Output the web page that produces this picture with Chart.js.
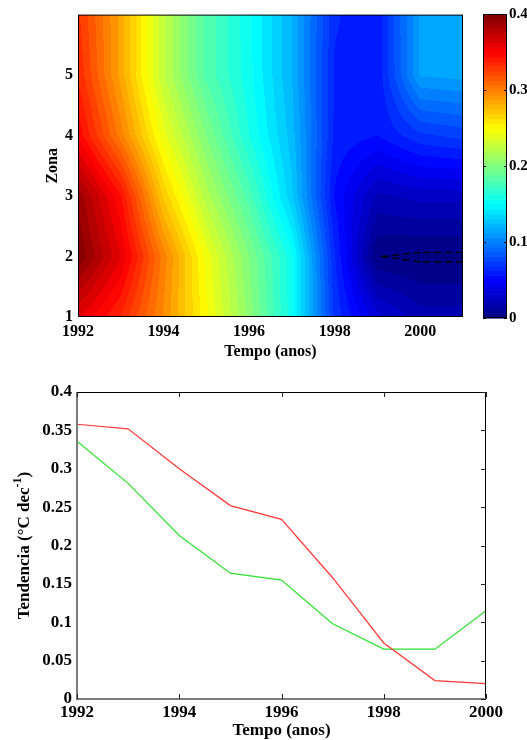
<!DOCTYPE html>
<html>
<head>
<meta charset="utf-8">
<script src="https://cdn.jsdelivr.net/npm/chart.js@4.4.1/dist/chart.umd.min.js"></script>
<style>
  body { margin: 0; background: #fff; width: 527px; height: 740px; position: relative; overflow: hidden; }
  .box { position: absolute; }
</style>
</head>
<body>
<div class="box" style="left:0;top:0;width:470px;height:370px"><canvas id="mapCanvas"></canvas></div>
<div class="box" style="left:470px;top:0;width:57px;height:370px"><canvas id="barCanvas"></canvas></div>
<div class="box" style="left:0;top:370px;width:527px;height:370px"><canvas id="lineCanvas"></canvas></div>
<script>
// top panel: trend per zone (rows) and year (columns)
const mapYears = [1992, 1993, 1994, 1995, 1996, 1997, 1998, 1999, 2000, 2001];
const mapZones = [1, 2, 3, 4, 5, 6];
const trendZone1 = [0.36, 0.335, 0.295, 0.25, 0.205, 0.155, 0.07, 0.035, 0.02, 0.02];
const trendZone2 = [0.40, 0.36, 0.30, 0.245, 0.20, 0.155, 0.065, 0.0002, -0.002, -0.002];
const trendZone3 = [0.39, 0.345, 0.27, 0.22, 0.18, 0.13, 0.055, 0.022, 0.027, 0.027];
const trendZone4 = [0.35, 0.30, 0.243, 0.20, 0.16, 0.124, 0.062, 0.056, 0.07, 0.075];
const trendZone5 = [0.335, 0.285, 0.225, 0.182, 0.155, 0.12, 0.063, 0.058, 0.113, 0.115];
const trendZone6 = [0.33, 0.285, 0.225, 0.182, 0.154, 0.12, 0.065, 0.058, 0.114, 0.116];
const mapXTicks = [1992, 1994, 1996, 1998, 2000];
const mapYTicks = [1, 2, 3, 4, 5];
const colorTicks = [0, 0.1, 0.2, 0.3, 0.4];
const zeroContour = 0;

// bottom panel
const lineYears = [1992, 1993, 1994, 1995, 1996, 1997, 1998, 1999, 2000];
const redSeries = [0.358, 0.352, 0.300, 0.252, 0.234, 0.158, 0.073, 0.024, 0.020];
const greenSeries = [0.336, 0.281, 0.213, 0.164, 0.155, 0.098, 0.065, 0.065, 0.115];
const lineXTicks = [1992, 1994, 1996, 1998, 2000];
const lineYTicks = [0, 0.05, 0.1, 0.15, 0.2, 0.25, 0.3, 0.35, 0.4];

const gridRows = [trendZone1, trendZone2, trendZone3, trendZone4, trendZone5, trendZone6];
const cMin = 0, cMax = 0.4, nBands = 50, nColors = 64;
const serif = "'Liberation Serif', 'DejaVu Serif', serif";
Chart.defaults.font.family = serif;
Chart.defaults.color = '#000';

function clamp01(v) { return Math.max(0, Math.min(1, v)); }
function jet(t) {
  t = clamp01(t);
  return [clamp01(1.5 - Math.abs(4 * t - 3)) * 255,
          clamp01(1.5 - Math.abs(4 * t - 2)) * 255,
          clamp01(1.5 - Math.abs(4 * t - 1)) * 255];
}

function fieldAt(yr, zn) {
  let i = Math.floor(yr - mapYears[0]);
  let j = Math.floor(zn - mapZones[0]);
  i = Math.max(0, Math.min(mapYears.length - 2, i));
  j = Math.max(0, Math.min(mapZones.length - 2, j));
  const tx = yr - mapYears[i], ty = zn - mapZones[j];
  const a = gridRows[j][i], b = gridRows[j][i + 1];
  const c = gridRows[j + 1][i], d = gridRows[j + 1][i + 1];
  return (a * (1 - tx) + b * tx) * (1 - ty) + (c * (1 - tx) + d * tx) * ty;
}

const bold = size => ({ family: serif, size: size, weight: 'bold' });
const noGrid = { display: false, drawTicks: false };

const mapPlugin = {
  id: 'mapPlugin',
  beforeDatasetsDraw(chart) {
    const { ctx, chartArea: a, scales: { x, y } } = chart;
    const dpr = chart.currentDevicePixelRatio || 1;
    const left = Math.round(a.left), top = Math.round(a.top);
    const w = Math.round(a.right) - left, h = Math.round(a.bottom) - top;
    const W = Math.round(w * dpr), H = Math.round(h * dpr);
    const img = ctx.createImageData(W, H);
    const step = (cMax - cMin) / nBands;
    for (let py = 0; py < H; py++) {
      const zn = y.getValueForPixel(top + (py + 0.5) / dpr);
      for (let px = 0; px < W; px++) {
        const yr = x.getValueForPixel(left + (px + 0.5) / dpr);
        const v = fieldAt(yr, zn);
        const k = Math.floor((v - cMin) / step);
        const col = jet((k + 0.5) / nBands);
        const o = (py * W + px) * 4;
        img.data[o] = col[0]; img.data[o + 1] = col[1]; img.data[o + 2] = col[2]; img.data[o + 3] = 255;
      }
    }
    ctx.putImageData(img, left * dpr, top * dpr);
  },
  afterDatasetsDraw(chart) {
    const { ctx, chartArea: a, scales: { x, y } } = chart;
    // dashed zero contour (marching squares on the data grid)
    ctx.save();
    ctx.beginPath();
    ctx.rect(a.left, a.top, a.right - a.left, a.bottom - a.top);
    ctx.clip();
    ctx.strokeStyle = '#000';
    ctx.lineWidth = 1.3;
    ctx.setLineDash([7, 4]);
    for (let j = 0; j < mapZones.length - 1; j++) {
      for (let i = 0; i < mapYears.length - 1; i++) {
        const corners = [
          [mapYears[i], mapZones[j], gridRows[j][i]],
          [mapYears[i + 1], mapZones[j], gridRows[j][i + 1]],
          [mapYears[i + 1], mapZones[j + 1], gridRows[j + 1][i + 1]],
          [mapYears[i], mapZones[j + 1], gridRows[j + 1][i]]
        ];
        const pts = [];
        for (let e = 0; e < 4; e++) {
          const p = corners[e], q = corners[(e + 1) % 4];
          if ((p[2] < zeroContour) !== (q[2] < zeroContour)) {
            const t = (zeroContour - p[2]) / (q[2] - p[2]);
            pts.push([p[0] + t * (q[0] - p[0]), p[1] + t * (q[1] - p[1])]);
          }
        }
        for (let s = 0; s + 1 < pts.length; s += 2) {
          ctx.beginPath();
          ctx.moveTo(x.getPixelForValue(pts[s][0]), y.getPixelForValue(pts[s][1]));
          ctx.lineTo(x.getPixelForValue(pts[s + 1][0]), y.getPixelForValue(pts[s + 1][1]));
          ctx.stroke();
        }
      }
    }
    ctx.restore();
    ctx.save();
    ctx.strokeStyle = '#000';
    ctx.lineWidth = 1;
    ctx.strokeRect(a.left + 0.5, a.top + 0.5, a.right - a.left - 1, a.bottom - a.top - 1);
    ctx.restore();
  },
  afterDraw(chart) {
    const { ctx, chartArea: a } = chart;
    ctx.save();
    ctx.fillStyle = '#000';
    ctx.font = 'bold 16px ' + serif;
    ctx.textAlign = 'center';
    ctx.textBaseline = 'middle';
    ctx.fillText('Tempo (anos)', (a.left + a.right) / 2, 352);
    ctx.translate(53, (a.top + a.bottom) / 2);
    ctx.rotate(-Math.PI / 2);
    ctx.fillText('Zona', 0, 0);
    ctx.restore();
  }
};

new Chart(document.getElementById('mapCanvas'), {
  type: 'scatter',
  data: { datasets: [] },
  options: {
    responsive: true,
    maintainAspectRatio: false,
    animation: false,
    layout: { padding: { top: 14, right: 7, left: 0, bottom: 0 } },
    plugins: { legend: { display: false }, tooltip: { enabled: false } },
    scales: {
      x: {
        type: 'linear', min: mapYears[0], max: mapYears[mapYears.length - 1],
        afterBuildTicks: s => { s.ticks = mapXTicks.map(v => ({ value: v })); },
        afterFit: s => { s.height = 53; },
        grid: noGrid, border: { display: false },
        ticks: { font: bold(16), padding: 5, maxRotation: 0, callback: v => String(v) }
      },
      y: {
        type: 'linear', min: mapZones[0], max: mapZones[mapZones.length - 1],
        afterBuildTicks: s => { s.ticks = mapYTicks.map(v => ({ value: v })); },
        afterFit: s => { s.width = 78; },
        grid: noGrid, border: { display: false },
        ticks: { font: bold(16), padding: 5, callback: v => String(v) }
      }
    }
  },
  plugins: [mapPlugin]
});

const barPlugin = {
  id: 'barPlugin',
  beforeDatasetsDraw(chart) {
    const { ctx, chartArea: a, scales: { y } } = chart;
    ctx.save();
    for (let k = 0; k < nColors; k++) {
      const v0 = cMin + (cMax - cMin) * k / nColors;
      const v1 = cMin + (cMax - cMin) * (k + 1) / nColors;
      const c = jet((k + 0.5) / nColors);
      ctx.fillStyle = 'rgb(' + c.map(Math.round).join(',') + ')';
      const y0 = y.getPixelForValue(v0), y1 = y.getPixelForValue(v1);
      ctx.fillRect(a.left, y1, a.right - a.left, y0 - y1 + 0.6);
    }
    ctx.strokeStyle = '#000';
    ctx.lineWidth = 1;
    colorTicks.forEach(v => {
      const py = Math.round(y.getPixelForValue(v)) + 0.5;
      ctx.beginPath();
      ctx.moveTo(a.left, py); ctx.lineTo(a.left + 3, py);
      ctx.moveTo(a.right, py); ctx.lineTo(a.right - 3, py);
      ctx.stroke();
    });
    ctx.strokeRect(a.left + 0.5, a.top + 0.5, a.right - a.left - 1, a.bottom - a.top - 1);
    ctx.restore();
  }
};

new Chart(document.getElementById('barCanvas'), {
  type: 'scatter',
  data: { datasets: [] },
  options: {
    responsive: true,
    maintainAspectRatio: false,
    animation: false,
    layout: { padding: { top: 14, left: 13, right: 0, bottom: 52 } },
    plugins: { legend: { display: false }, tooltip: { enabled: false } },
    scales: {
      x: { display: false, min: 0, max: 1 },
      y: {
        type: 'linear', position: 'right', min: cMin, max: cMax,
        afterBuildTicks: s => { s.ticks = colorTicks.map(v => ({ value: v })); },
        afterFit: s => { s.width = 20; },
        grid: noGrid, border: { display: false },
        ticks: { font: bold(15), padding: 2, callback: v => String(+v.toFixed(2)) }
      }
    }
  },
  plugins: [barPlugin]
});

const linePlugin = {
  id: 'linePlugin',
  afterDatasetsDraw(chart) {
    const { ctx, chartArea: a, scales: { x, y } } = chart;
    ctx.save();
    // frame: left and bottom axes grey and thicker, top and right thin
    ctx.strokeStyle = '#000';
    ctx.lineWidth = 1;
    ctx.beginPath();
    ctx.moveTo(a.left, a.top + 0.5); ctx.lineTo(a.right, a.top + 0.5);
    ctx.moveTo(a.right - 0.5, a.top); ctx.lineTo(a.right - 0.5, a.bottom);
    ctx.stroke();
    ctx.strokeStyle = '#7a7a7a';
    ctx.lineWidth = 2;
    ctx.beginPath();
    ctx.moveTo(a.left, a.top); ctx.lineTo(a.left, a.bottom);
    ctx.lineTo(a.right, a.bottom);
    ctx.stroke();
    // inward ticks
    ctx.strokeStyle = '#222';
    ctx.lineWidth = 1;
    ctx.beginPath();
    lineXTicks.forEach(v => {
      const px = Math.round(x.getPixelForValue(v)) + 0.5;
      ctx.moveTo(px, a.bottom); ctx.lineTo(px, a.bottom - 5);
      ctx.moveTo(px, a.top); ctx.lineTo(px, a.top + 5);
    });
    lineYTicks.forEach(v => {
      const py = Math.round(y.getPixelForValue(v)) + 0.5;
      ctx.moveTo(a.right, py); ctx.lineTo(a.right - 5, py);
    });
    ctx.stroke();
    ctx.restore();
  },
  afterDraw(chart) {
    const { ctx, chartArea: a } = chart;
    ctx.save();
    ctx.fillStyle = '#000';
    ctx.textBaseline = 'middle';
    ctx.textAlign = 'center';
    ctx.font = 'bold 17px ' + serif;
    ctx.fillText('Tempo (anos)', (a.left + a.right) / 2, 361);
    // y title with superscript
    ctx.translate(25, (a.top + a.bottom) / 2);
    ctx.rotate(-Math.PI / 2);
    const big = 'bold 17px ' + serif, small = 'bold 12px ' + serif;
    const p1 = 'Tendencia (\u00B0C dec', p2 = '-1', p3 = ')';
    ctx.font = big; const w1 = ctx.measureText(p1).width, w3 = ctx.measureText(p3).width;
    ctx.font = small; const w2 = ctx.measureText(p2).width;
    let sx = -(w1 + w2 + w3) / 2;
    ctx.textAlign = 'left';
    ctx.font = big; ctx.fillText(p1, sx, 0); sx += w1;
    ctx.font = small; ctx.fillText(p2, sx, -7); sx += w2;
    ctx.font = big; ctx.fillText(p3, sx, 0);
    ctx.restore();
  }
};

new Chart(document.getElementById('lineCanvas'), {
  type: 'line',
  data: {
    datasets: [
      { data: lineYears.map((yr, i) => ({ x: yr, y: redSeries[i] })), borderColor: 'rgb(255,55,55)' },
      { data: lineYears.map((yr, i) => ({ x: yr, y: greenSeries[i] })), borderColor: 'rgb(45,225,45)' }
    ]
  },
  options: {
    responsive: true,
    maintainAspectRatio: false,
    animation: false,
    layout: { padding: { top: 22, right: 41, left: 0, bottom: 0 } },
    elements: { line: { borderWidth: 1.2, tension: 0 }, point: { radius: 0 } },
    plugins: { legend: { display: false }, tooltip: { enabled: false } },
    scales: {
      x: {
        type: 'linear', min: lineYears[0], max: lineYears[lineYears.length - 1],
        afterBuildTicks: s => { s.ticks = lineXTicks.map(v => ({ value: v })); },
        afterFit: s => { s.height = 41; },
        grid: noGrid, border: { display: false },
        ticks: { font: bold(17), padding: 3, maxRotation: 0, callback: v => String(v) }
      },
      y: {
        type: 'linear', min: 0, max: 0.4,
        afterBuildTicks: s => { s.ticks = lineYTicks.map(v => ({ value: v })); },
        afterFit: s => { s.width = 77; },
        grid: noGrid, border: { display: false },
        ticks: { font: bold(17), padding: 5, callback: v => String(+v.toFixed(2)) }
      }
    }
  },
  plugins: [linePlugin]
});
</script>
</body>
</html>
